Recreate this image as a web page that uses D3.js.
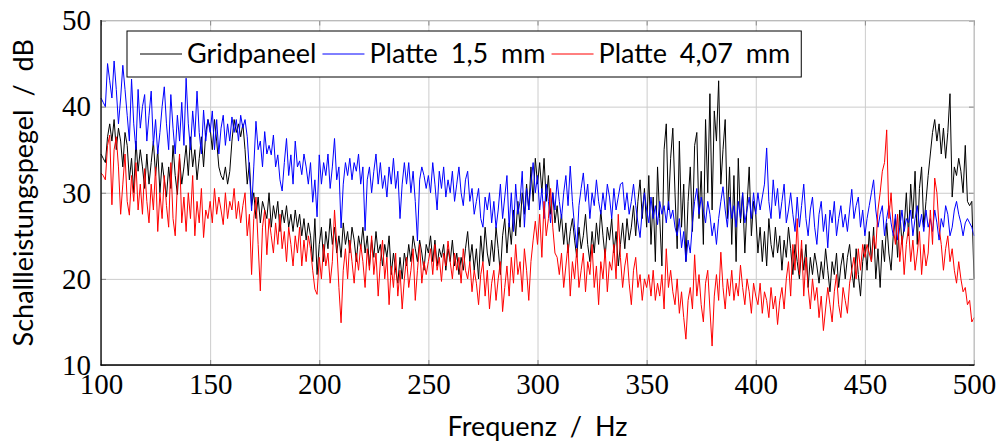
<!DOCTYPE html>
<html>
<head>
<meta charset="utf-8">
<script src="https://cdn.jsdelivr.net/npm/d3@7/dist/d3.min.js"></script>
<style>
  body { margin: 0; background: #fff; }
  .tick text { font-family: "Liberation Serif", "DejaVu Serif", serif; }
</style>
</head>
<body>
<svg id="chart" width="1002" height="444"></svg>
<script>
// values per 1 Hz step, 100 .. 500 Hz
const freqStart = 100, freqEnd = 500;

const gridpaneel = [
  34.5, 34, 33.5, 36.5, 38, 36, 38.5, 35, 37.5, 36,
  33, 37, 35.5, 31.5, 34, 30, 36, 32.5, 35, 33,
  30.5, 34.5, 31, 33.5, 36, 32, 35, 30, 33.5, 31.5,
  29.5, 33, 30.5, 35.5, 32, 29.8, 34, 31, 33, 35.5,
  32, 36.5, 33, 35, 31.5, 34, 36.5, 33, 37, 38.5,
  37.5, 35, 38.5, 36, 33, 32, 31.5, 33, 31, 32.5,
  36, 38.5, 37, 38, 36.5, 38, 35, 31, 33.5, 28.5,
  30, 27, 29.5, 26.5, 29, 28, 27, 30, 26, 28.5,
  27, 29, 25.5, 28, 26.5, 28.5, 26, 27.5, 25.5, 28,
  26, 27.5, 25, 27, 24.5, 26.5, 25, 22, 27, 20.5,
  24, 26, 22, 25.5, 23.5, 27, 24, 26, 23, 25,
  22.5, 26.5, 24, 25.5, 23, 26, 24.5, 22, 25, 23.5,
  26, 23, 25, 21.5, 24.5, 22.5, 25.5, 23, 24, 21.5,
  24, 22.5, 25, 20.5, 23, 21, 19.5, 22.5, 20, 23,
  21.5, 24, 22, 25, 23.5, 22, 24.5, 23, 21, 24,
  23, 25, 22, 24.5, 21.5, 23.5, 22.5, 24, 21, 23.5,
  22, 24.5, 21.5, 23, 20.5, 22.5, 21, 23.5, 25.5, 22,
  24, 21, 23.5, 20, 25, 22, 26, 23, 21.5, 24.5,
  22, 26, 23.5, 20.5, 25, 27, 23, 26.5, 24, 28,
  25, 29, 26, 30, 27.5, 31, 28, 33, 29, 34,
  31, 33.5, 30, 34, 29, 32, 27.5, 30, 26.5, 28.5,
  25.5, 27.5, 24, 26.5, 23, 25.5, 27, 24.5, 22.5, 26,
  23.5, 25, 27.5, 24, 22, 25.5, 23, 26.5, 24, 28,
  25, 22.5, 26, 24.5, 27, 23, 25.5, 21.5, 24, 26.5,
  23.5, 27, 24.5, 26, 28.5, 25, 29, 31.5, 27, 30.5,
  26, 32, 24, 29.5, 22, 33, 27, 21.5, 35, 38,
  28, 34, 37.5, 30, 23.5, 36, 26, 31, 22, 29,
  33, 25.5, 35.5, 37, 27, 32.5, 24, 38.5, 30, 41.5,
  28, 39.5, 36, 43, 31, 35, 38.5, 27, 33, 24,
  32, 22, 34, 26.5, 30, 23, 28.5, 33, 25, 29,
  27.5, 23, 26, 22, 25.5, 21.5, 27, 24, 22.5, 26,
  23, 25, 21, 24.5, 22.5, 26, 23.5, 20.5, 24, 22,
  20, 23.5, 21, 24, 19, 22.5, 20.5, 23, 21.5, 19.5,
  22, 20, 23.5, 21, 18.5, 22, 20.5, 23, 19, 21.5,
  23, 20, 22.5, 24, 21, 19, 23.5, 20.5, 18, 22,
  24, 21, 25.5, 22, 26, 20, 23.5, 19, 24.5, 22,
  26.5, 23, 21, 25, 27, 22.5, 28, 24, 26, 30,
  25, 31, 27, 32.5, 24, 30.5, 33, 26, 29, 32,
  34.5, 37, 38.5, 36, 38, 34.5, 37.5, 34, 37, 41.5,
  29.5, 33, 32, 34, 32.5, 30, 35.5, 29, 28.5, 29,
  20
];

const platte15 = [
  41, 40.5, 40, 45, 43, 41, 45.3, 42, 38, 41,
  44.8, 42, 39, 36, 43.2, 38, 35, 42, 37.5, 40,
  41.4, 36, 39, 41.8, 35.5, 38.5, 34.5, 37, 40, 42.3,
  38, 35, 41.4, 37.5, 34.5, 39, 36, 40.5, 35.5, 43.3,
  38, 35, 39.5, 36.5, 41.8, 37, 34.5, 39.6, 36, 38.5,
  37, 39.5, 35, 38.5, 34.5, 37.5, 39, 35.5, 38, 36,
  38.8, 37, 38.5, 36, 39, 37.5, 38.5, 36.5, 32.5, 27.9,
  33, 38.3, 35, 36, 33, 37.1, 34.5, 35.5, 34.4, 36.7,
  33, 34.4, 31.5, 30.2, 33.5, 36.3, 32, 34.4, 31, 36,
  33, 33.7, 32.1, 34.5, 33, 31, 33.5, 28.9, 31.5, 27.2,
  34.4, 31, 33.5, 32, 34.5, 30.5, 33, 36.3, 31.5, 33,
  25.9, 31, 33.5, 32, 34, 31.5, 33.5, 32.5, 34.5, 31,
  33, 25.6, 31.5, 33, 30, 32.5, 34.5, 31, 33.5, 30.5,
  32, 29.5, 33, 31, 34, 30.5, 32.5, 27, 31, 33.5,
  31, 33.5, 30, 32.5, 29, 24.4, 31.5, 33, 32, 30.5,
  32, 30, 33.5, 31, 28, 32.5, 30.5, 33, 29.5, 31.5,
  30, 32.5, 29, 31, 33, 30, 28.5, 31.5, 32.5, 29,
  30.5, 27.5, 29, 30.5, 27, 26, 29.5, 28, 30, 26.5,
  29, 25.9, 28, 31, 27, 29.5, 32, 26, 30, 25.5,
  31, 27.5, 29, 32.5, 26, 30.5, 28, 31, 33.5, 30,
  32, 28, 30.5, 27, 31, 29, 26.5, 30, 28, 31.5,
  29, 27, 30, 32, 28.5, 33.1, 29, 26, 23.6, 28.5,
  30.5, 32.3, 29, 31, 27, 30, 28.5, 31.5, 29, 27.5,
  30, 28, 31, 29.5, 27, 30.5, 28, 29.5, 31, 31.2,
  28, 30, 27.5, 29, 31, 28.5, 26.5, 24.8, 28, 30,
  28, 26.5, 29.5, 27, 28.5, 26.3, 29, 27.5, 28.5, 26.5,
  29, 27, 28, 26, 25, 27, 23.6, 25.5, 22, 24.5,
  23, 26.5, 29, 30.5, 27.5, 29.5, 28, 26.5, 29, 27.5,
  25, 26.5, 24, 27, 29, 30.7, 28, 26, 29.5, 27,
  28.5, 26, 29, 27, 30, 26.5, 28, 29.5, 27, 30,
  27.5, 30, 28, 29.5, 31, 35.2, 29, 27, 31.5, 28.5,
  30.5, 27, 29, 31, 26.5, 28, 30, 27.5, 25.5, 29.5,
  26, 28.5, 31, 27, 25, 28, 29.5, 26, 24, 27.5,
  29, 25.5, 27.5, 23.6, 28, 26.5, 29, 25, 27, 28.5,
  26, 27.5, 25.5, 28, 30.4, 27, 28.5, 29.5, 26, 28,
  25, 27, 28.5, 30, 31.5, 28, 26, 27.5, 28.5, 25,
  27, 28.5, 26.5, 25, 27.5, 24.5, 26, 28, 25.5, 27,
  26.5, 28, 25, 27, 28.5, 26, 27.5, 25.5, 28, 26,
  27, 25.5, 28, 26.5, 24.5, 27, 26, 28.5, 27.5, 25,
  26, 28, 29, 27.5, 26.5, 25, 26.5, 27, 26.5, 26,
  25
];

const platte407 = [
  32.3, 32, 31.5, 35.5, 36.7, 28.6, 35, 36.5, 33, 27.5,
  31, 34.5, 29, 27.4, 32, 29, 33.5, 28, 31, 27.5,
  32.8, 29, 26.5, 31, 28, 33, 25.5, 30, 27, 32,
  28.5, 26, 33.5, 27, 25, 31, 34.5, 26.5, 29.5, 25.5,
  30, 27, 32, 25, 29, 26.5, 30.5, 24.8, 28, 27,
  29, 26.5, 30.5, 27.5, 29.5, 28, 26.3, 30, 27, 29,
  28, 30.5, 27, 29, 26.5, 28.5, 30, 25, 27.5, 20.5,
  27, 29.5, 24, 18.6, 26, 28, 22.8, 27, 25, 23,
  26.5, 24, 27.5, 23.5, 25.5, 22, 26, 24, 21.5, 25,
  23, 26, 21.5, 24.5, 22, 25, 23.5, 21, 18.8, 18.2,
  22.5, 20, 24, 21.5, 23, 19.5, 22, 28, 24, 19,
  14.9, 21, 23.5, 20, 24.5, 22, 19.5, 23, 21, 24,
  22, 19, 23.5, 21, 25, 20.5, 23, 18, 22, 24.5,
  20, 22.5, 17, 21.5, 19, 23, 18, 21, 16.5, 20,
  22.5, 19, 21, 23.5, 17.5, 21, 24, 19.5, 22, 20.5,
  22, 23.5, 20.5, 24, 21, 22.5, 19.7, 23, 21.5, 24.4,
  22, 20, 23, 21, 22.5, 19.5, 23.5, 21, 20, 22,
  18.5, 21, 19.5, 17, 20.5, 22, 18, 21, 16.5, 19.5,
  21, 17.5, 20, 22, 16.2, 19, 21.5, 18, 22.5, 19.5,
  24, 20.5, 22, 18.5, 23.5, 21, 17.5, 22, 24.5, 26.7,
  24, 27.5, 22.5, 29, 25, 27, 30.5, 26, 23, 22.5,
  20.5, 23, 19, 21.5, 24, 18, 22, 20, 23.5, 19,
  21, 23, 18.5, 22, 20.5, 24, 19, 21.5, 17, 22,
  20, 23.5, 18.5, 22, 21, 24, 20, 27.5, 22.5, 19,
  21.5, 23, 19.5, 17, 21, 22.5, 19, 20.5, 17.5, 20,
  19, 20.5, 18, 21, 17.5, 19.5, 18, 20.5, 16.5, 23.5,
  19, 21, 18.5, 17, 20, 16, 18.5, 15.5, 13, 17.5,
  19, 16.5, 22.8, 18, 20.5, 17, 15, 19.5, 21, 16.5,
  12.2, 18, 20.5, 17.5, 23.1, 19, 16.5, 20, 18, 21,
  17.5, 19.5, 18, 21.6, 19, 17, 20, 18.5, 16, 19.5,
  18, 17, 19.5, 16, 18.5, 17.5, 15.5, 19, 16.5, 18,
  14.7, 17.5, 19, 16.5, 20, 22, 18, 24, 21, 27,
  20.5, 24.5, 18, 22.5, 19, 16.5, 20, 17.5, 19, 15.5,
  18, 14, 16.5, 19, 17, 15, 18.5, 20.5, 17, 15.5,
  19, 17.5, 16, 19.5, 21, 22.5, 20, 23.5, 21, 24,
  22.5, 24, 23, 22, 25, 23.5, 28, 30, 32.5, 33.5,
  37.3, 27, 30, 26, 24, 27.5, 22, 25, 20.5, 24,
  26, 22, 24.5, 21, 23, 25.5, 20.5, 24, 21.5, 23,
  28, 24, 31.7, 30, 26, 24, 21, 23.5, 25, 22,
  23.5, 21, 19.5, 22, 20, 18.5, 19, 17, 17.5, 15,
  15.5
];

const xTicks = [100, 150, 200, 250, 300, 350, 400, 450, 500];
const yTicks = [10, 20, 30, 40, 50];
const seriesNames = ["Gridpaneel", "Platte 1,5 mm", "Platte 4,07 mm"];
const seriesColors = ["#000000", "#0000ff", "#ff0000"];
const seriesValues = [gridpaneel, platte15, platte407];

const svg = d3.select("#chart");
const x = d3.scaleLinear().domain([freqStart, freqEnd]).range([101, 974]);
const y = d3.scaleLinear().domain([10, 50]).range([365, 20.5]);
const plotH = y(10) - y(50), plotW = x(500) - x(100);
const sansFont = "Lato, 'Open Sans', sans-serif";

// grid
svg.append("g")
  .attr("transform", `translate(0,${y(10)})`)
  .call(d3.axisBottom(x).tickValues(xTicks).tickSize(-plotH).tickFormat(""))
  .call(g => g.select(".domain").remove())
  .selectAll("line").attr("stroke", "#cccccc");
svg.append("g")
  .attr("transform", `translate(${x(100)},0)`)
  .call(d3.axisLeft(y).tickValues(yTicks).tickSize(-plotW).tickFormat(""))
  .call(g => g.select(".domain").remove())
  .selectAll("line").attr("stroke", "#cccccc");

// small inner ticks
svg.append("g")
  .attr("transform", `translate(0,${y(10)})`)
  .call(d3.axisBottom(x).tickValues(xTicks).tickSize(-5).tickFormat(""))
  .call(g => g.select(".domain").remove())
  .selectAll("line").attr("stroke", "#888888");
svg.append("g")
  .attr("transform", `translate(0,${y(50)})`)
  .call(d3.axisTop(x).tickValues(xTicks).tickSize(-5).tickFormat(""))
  .call(g => g.select(".domain").remove())
  .selectAll("line").attr("stroke", "#888888");
svg.append("g")
  .attr("transform", `translate(${x(100)},0)`)
  .call(d3.axisLeft(y).tickValues(yTicks).tickSize(-5).tickFormat(""))
  .call(g => g.select(".domain").remove())
  .selectAll("line").attr("stroke", "#888888");
svg.append("g")
  .attr("transform", `translate(${x(500)},0)`)
  .call(d3.axisRight(y).tickValues(yTicks).tickSize(-5).tickFormat(""))
  .call(g => g.select(".domain").remove())
  .selectAll("line").attr("stroke", "#888888");

// data lines
const line = d3.line()
  .x((d, i) => x(freqStart + i))
  .y(d => y(d));
seriesValues.forEach((vals, k) => {
  svg.append("path")
    .datum(vals)
    .attr("fill", "none")
    .attr("stroke", seriesColors[k])
    .attr("stroke-width", 1)
    .attr("stroke-linejoin", "round")
    .attr("d", line);
});

// frame: top/right light, left/bottom black
svg.append("line").attr("x1", x(100)).attr("x2", x(500)).attr("y1", y(50)).attr("y2", y(50)).attr("stroke", "#bbbbbb");
svg.append("line").attr("x1", x(500)).attr("x2", x(500)).attr("y1", y(50)).attr("y2", y(10)).attr("stroke", "#bbbbbb");
svg.append("line").attr("x1", x(100)).attr("x2", x(100)).attr("y1", y(50) - 0.5).attr("y2", y(10) + 0.5).attr("stroke", "#000").attr("stroke-width", 1.3);
svg.append("line").attr("x1", x(100) - 0.5).attr("x2", x(500) + 0.5).attr("y1", y(10)).attr("y2", y(10)).attr("stroke", "#000").attr("stroke-width", 1.3);

// tick labels
svg.append("g")
  .attr("transform", `translate(0,${y(10)})`)
  .call(d3.axisBottom(x).tickValues(xTicks).tickSize(0).tickPadding(8))
  .call(g => g.select(".domain").remove())
  .selectAll("text").attr("font-size", 29).attr("fill", "#000");
svg.append("g")
  .attr("transform", `translate(${x(100)},0)`)
  .call(d3.axisLeft(y).tickValues(yTicks).tickSize(0).tickPadding(10))
  .call(g => g.select(".domain").remove())
  .selectAll("text").attr("font-size", 29).attr("fill", "#000");

// axis titles
svg.append("text")
  .attr("x", (x(100) + x(500)) / 2).attr("y", 436)
  .attr("text-anchor", "middle")
  .attr("font-family", sansFont).attr("font-size", 27).attr("word-spacing", 6)
  .text("Frequenz / Hz");
svg.append("text")
  .attr("transform", `translate(33,${(y(10) + y(50)) / 2}) rotate(-90)`)
  .attr("text-anchor", "middle")
  .attr("font-family", sansFont).attr("font-size", 27).attr("word-spacing", 6)
  .text("Schallleistungspegel / dB");

// legend
const legend = svg.append("g");
const legBox = legend.append("rect")
  .attr("y", 31).attr("height", 46)
  .attr("fill", "#fff").attr("stroke", "#000").attr("stroke-width", 1);
let cx = 140;
seriesNames.forEach((name, k) => {
  legend.append("line")
    .attr("x1", cx).attr("x2", cx + 42).attr("y1", 54).attr("y2", 54)
    .attr("stroke", seriesColors[k]).attr("stroke-width", 1);
  const t = legend.append("text")
    .attr("x", cx + 47).attr("y", 63)
    .attr("font-family", sansFont).attr("font-size", 27).attr("word-spacing", 6)
    .text(name);
  cx += 47 + t.node().getComputedTextLength() + 6;
});
legBox.attr("x", 127).attr("width", cx - 127 + 5);
</script>
</body>
</html>
